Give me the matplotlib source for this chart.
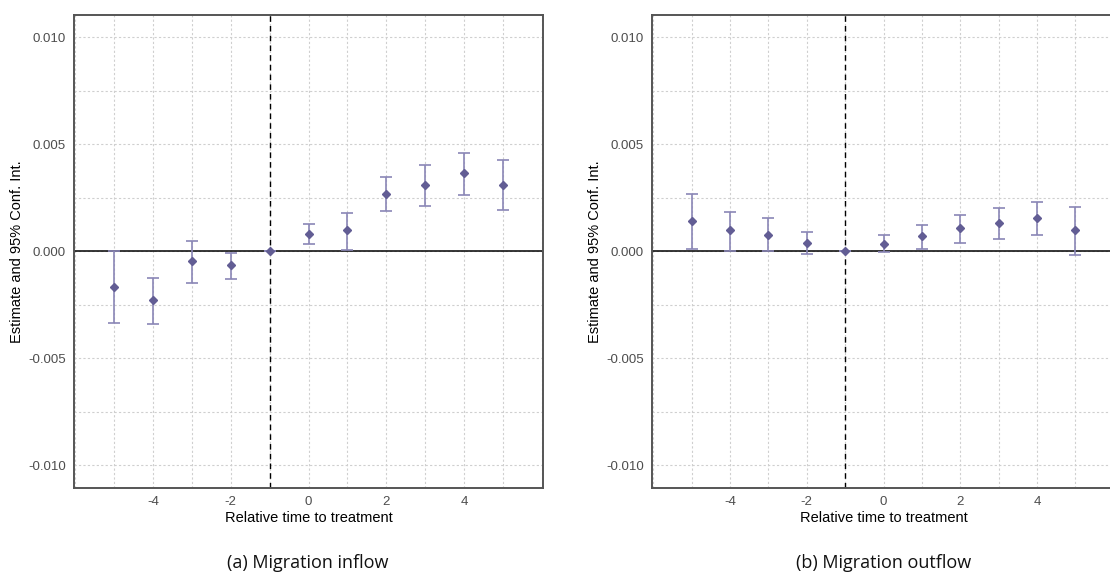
import numpy as np
import matplotlib.pyplot as plt
from matplotlib.ticker import MultipleLocator

plt.rcParams["axes.unicode_minus"] = False

rel_time = [-5, -4, -3, -2, -1, 0, 1, 2, 3, 4, 5]

# migration inflow
inflow_est = [-0.00168, -0.00227, -0.00047, -0.00067, 0.0, 0.00081, 0.00097, 0.00266, 0.00310, 0.00363, 0.00310]
inflow_lo = [-0.00335, -0.00341, -0.00150, -0.00129, 0.0, 0.00035, 0.00003, 0.00185, 0.00210, 0.00263, 0.00190]
inflow_hi = [0.0, -0.00125, 0.00047, -0.00011, 0.0, 0.00125, 0.00179, 0.00344, 0.00403, 0.00457, 0.00424]

# migration outflow
outflow_est = [0.00139, 0.00098, 0.00076, 0.00039, 0.0, 0.00034, 0.00072, 0.00109, 0.00129, 0.00156, 0.00097]
outflow_lo = [0.00009, 0.0, 0.0, -0.00015, 0.0, -0.00005, 0.00009, 0.00037, 0.00057, 0.00073, -0.00017]
outflow_hi = [0.00265, 0.00184, 0.00153, 0.00090, 0.0, 0.00073, 0.00121, 0.00170, 0.00201, 0.00228, 0.00207]

captions = ["(a) Migration inflow", "(b) Migration outflow"]

W, H = 1110, 580
fig = plt.figure(figsize=(W / 100, H / 100), dpi=100)

# axes boxes in pixels: left, top, right, bottom
boxes = [(74, 15, 543, 488), (652, 15, 1115, 488)]
caption_x = [308, 884]
series = [(inflow_est, inflow_lo, inflow_hi), (outflow_est, outflow_lo, outflow_hi)]

for (l, t, r, b), (est, lo, hi), cap, cx in zip(boxes, series, captions, caption_x):
    ax = fig.add_axes([l / W, 1 - b / H, (r - l) / W, (b - t) / H])
    est = np.array(est)
    yerr = [est - np.array(lo), np.array(hi) - est]

    ax.xaxis.set_major_locator(MultipleLocator(2))
    ax.xaxis.set_minor_locator(MultipleLocator(1))
    ax.yaxis.set_major_locator(MultipleLocator(0.005))
    ax.yaxis.set_minor_locator(MultipleLocator(0.0025))
    ax.grid(True, which="both", color="#cfcfcf", linestyle=(0, (2, 2)), linewidth=0.8)
    ax.set_axisbelow(True)

    ax.axhline(0, color="black", linewidth=1.1, zorder=2)
    ax.axvline(-1, color="black", linewidth=1.0, linestyle=(0, (4, 3)), zorder=2)

    ax.errorbar(rel_time, est, yerr=yerr, fmt="none", ecolor="#8a86b6",
                elinewidth=1.2, capsize=4, capthick=1.2, zorder=3)
    ax.plot(rel_time, est, linestyle="none", marker="D", markersize=4.5,
            color="#625d94", zorder=4)

    ax.set_xlim(-6.03, 6.03)
    ax.set_ylim(-0.01107, 0.01103)
    ax.set_yticks([-0.010, -0.005, 0.0, 0.005, 0.010])
    ax.set_yticklabels(["-0.010", "-0.005", "0.000", "0.005", "0.010"])
    ax.set_xticks([-4, -2, 0, 2, 4])
    ax.tick_params(which="both", length=0, labelsize=9.5, colors="#4d4d4d",
                   labelfontfamily="Liberation Sans", pad=6)
    for s in ax.spines.values():
        s.set_color("#555555")
        s.set_linewidth(1.4)

    ax.set_xlabel("Relative time to treatment", fontsize=10.5,
                  family="Liberation Sans", labelpad=2)
    ax.set_ylabel("Estimate and 95% Conf. Int.", fontsize=10.5,
                  family="Liberation Sans", labelpad=3)

    fig.text(cx / W, 1 - 563 / H, cap, ha="center", va="center",
             fontsize=13, family="Open Sans", color="#111111")

fig.savefig("out.png", dpi=100)
